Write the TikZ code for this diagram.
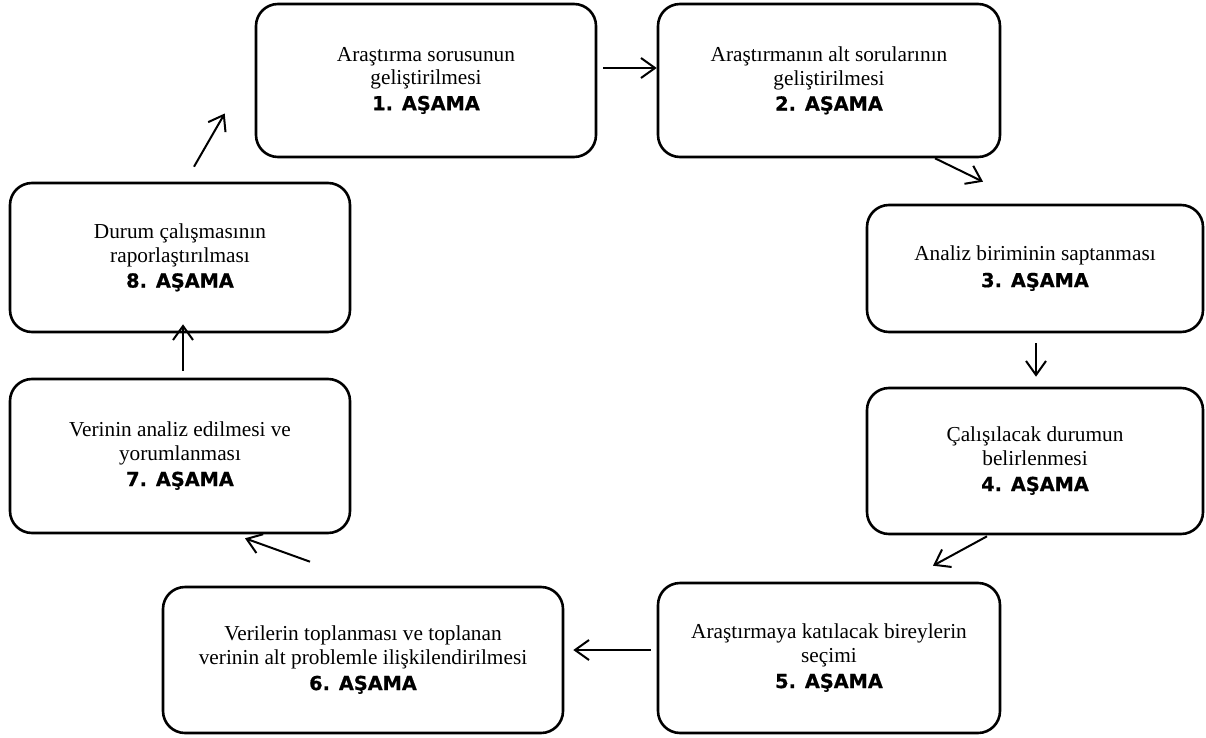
\documentclass[tikz,border=0pt]{standalone}
\usepackage{fontspec}
\setmainfont{Liberation Serif}
\newfontfamily\stagefont{DejaVu Sans Bold}[FakeBold=0.7]
\usetikzlibrary{arrows.meta,calc}

\newcommand{\stagelabel}[1]{{\stagefont\fontsize{19.3}{27}\selectfont #1}}

\tikzset{
  stagebox/.style={draw, line width=2.6pt, rounded corners=22pt, inner sep=0pt,
    align=center, font=\fontsize{21.3}{23.8}\selectfont},
  flow/.style={line width=2pt, -{Straight Barb[length=14pt,width=20pt,line width=2pt]}}
}

\begin{document}
\begin{tikzpicture}[x=1pt, y=-1pt]
  \useasboundingbox (0,0) rectangle (1206,738);

  % the eight stages, placed around a loop
  \node[stagebox, minimum width=340pt, minimum height=153pt] (b1) at (426,80.5)
    {Araştırma sorusunun\\geliştirilmesi\\[1.5pt]\stagelabel{1. AŞAMA}};
  \node[stagebox, minimum width=342pt, minimum height=153pt] (b2) at (829,80.5)
    {Araştırmanın alt sorularının\\geliştirilmesi\\[1.5pt]\stagelabel{2. AŞAMA}};
  \node[stagebox, minimum width=336pt, minimum height=127pt] (b3) at (1035,268.5)
    {Analiz biriminin saptanması\\[2.5pt]\stagelabel{3. AŞAMA}};
  \node[stagebox, minimum width=336pt, minimum height=146pt] (b4) at (1035,461)
    {Çalışılacak durumun\\belirlenmesi\\[1.5pt]\stagelabel{4. AŞAMA}};
  \node[stagebox, minimum width=342pt, minimum height=150pt] (b5) at (829,658)
    {Araştırmaya katılacak bireylerin\\seçimi\\[1.5pt]\stagelabel{5. AŞAMA}};
  \node[stagebox, minimum width=400pt, minimum height=146pt] (b6) at (363,660)
    {Verilerin toplanması ve toplanan\\verinin alt problemle ilişkilendirilmesi\\[1.5pt]\stagelabel{6. AŞAMA}};
  \node[stagebox, minimum width=340pt, minimum height=154pt] (b7) at (180,456)
    {Verinin analiz edilmesi ve\\yorumlanması\\[1.5pt]\stagelabel{7. AŞAMA}};
  \node[stagebox, minimum width=340pt, minimum height=149pt] (b8) at (180,257.5)
    {Durum çalışmasının\\raporlaştırılması\\[1.5pt]\stagelabel{8. AŞAMA}};

  % arrows between consecutive stages
  \draw[flow] ($(b1.east)+(6,-12.5)$) -- ($(b2.west)+(0,-12.5)$);
  \draw[flow] ($(b2.south)+(106,0)$) -- ($(b3.north)+(-52,-22)$);
  \draw[flow] ($(b3.south)+(1,10)$) -- ($(b4.north)+(1,-10)$);
  \draw[flow] ($(b4.south)+(-48,1)$) -- ($(b5.north)+(104,-16)$);
  \draw[flow] ($(b5.west)+(-6,-8)$) -- ($(b6.east)+(9,-10)$);
  \draw[flow] ($(b6.north)+(-53,-24)$) -- ($(b7.south)+(65,4)$);
  \draw[flow] ($(b7.north)+(3,-7)$) -- ($(b8.south)+(3,-9)$);
  \draw[flow] ($(b8.north)+(14,-15)$) -- ($(b1.west)+(-30,33)$);
\end{tikzpicture}
\end{document}
